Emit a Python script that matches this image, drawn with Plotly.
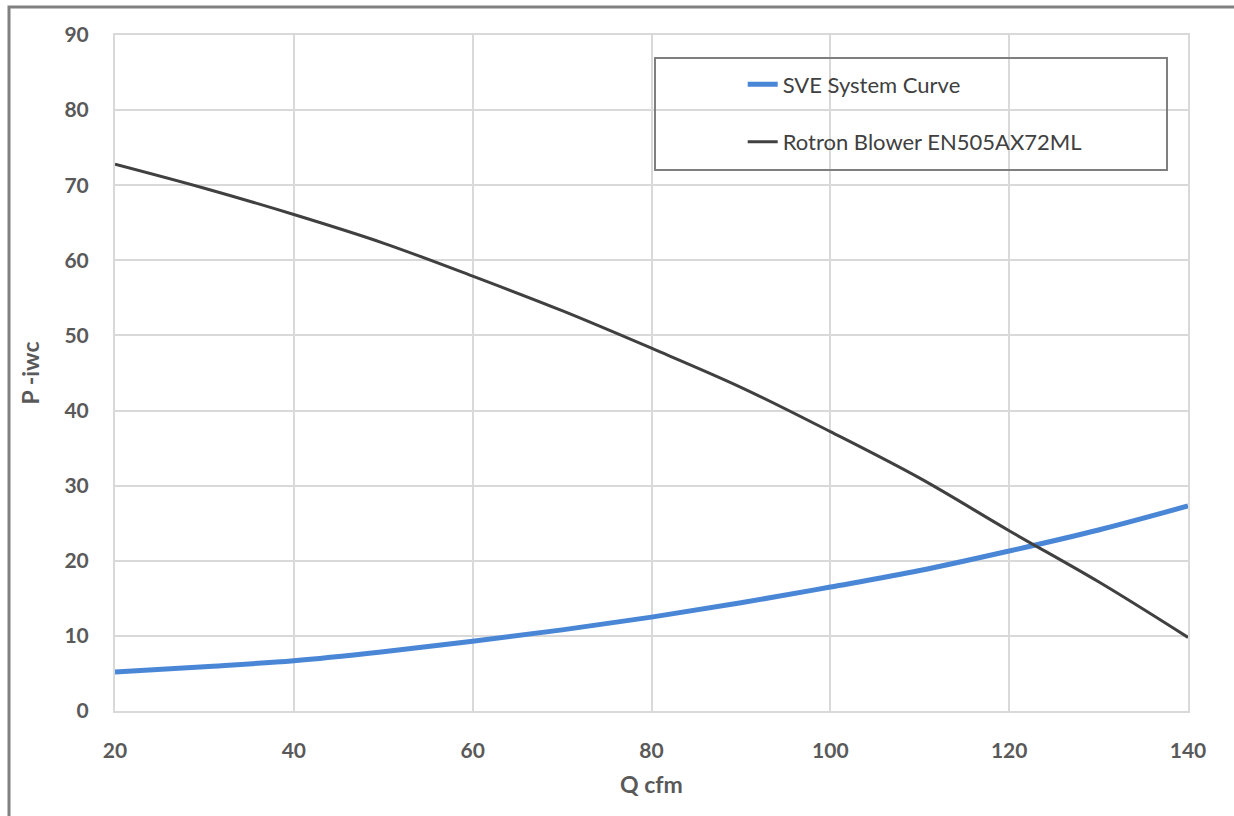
import plotly.graph_objects as go

q_sve = [20, 30, 40, 50, 60, 70, 80, 90, 100, 110, 120, 130, 140]
p_sve = [5.2, 5.9, 6.7, 7.9, 9.3, 10.8, 12.5, 14.4, 16.5, 18.7, 21.3, 24.1, 27.3]

q_blower = [20, 30, 40, 50, 60, 70, 80, 90, 100, 110, 120, 130, 140]
p_blower = [72.8, 69.6, 66.1, 62.3, 57.9, 53.3, 48.3, 43.1, 37.2, 31.0, 24.0, 17.2, 9.8]

x_ticks = [20, 40, 60, 80, 100, 120, 140]
y_ticks = [0, 10, 20, 30, 40, 50, 60, 70, 80, 90]

FONT = "Lato"
TICK_COLOR = "#595959"
GRID = "#d9d9d9"

fig = go.Figure()
fig.add_trace(go.Scatter(
    x=q_sve, y=p_sve, mode="lines", name="SVE System Curve",
    line=dict(color="#4a86d6", width=5, shape="spline"), legendgroup="a"))
fig.add_trace(go.Scatter(
    x=q_blower, y=p_blower, mode="lines", name="Rotron Blower EN505AX72ML",
    line=dict(color="#404040", width=3, shape="spline"), legendgroup="b"))

fig.update_layout(
    width=1234, height=816,
    margin=dict(l=115, r=46, t=35, b=105),
    paper_bgcolor="white", plot_bgcolor="white",
    font=dict(family=FONT, color=TICK_COLOR),
    showlegend=True,
    legend=dict(
        x=0.585, y=0.958, xanchor="left", yanchor="top",
        bgcolor="rgba(0,0,0,0)", borderwidth=0,
        font=dict(family=FONT, size=22, color="#404040"),
        tracegroupgap=26, itemwidth=30,
    ),
    xaxis=dict(
        range=[20, 140], tickvals=x_ticks,
        showgrid=True, gridcolor=GRID, gridwidth=2,
        showline=True, linecolor=GRID, linewidth=2, mirror=True,
        zeroline=False, ticks="",
        tickfont=dict(family=FONT, size=21, color=TICK_COLOR, weight="bold"),
        ticklabelstandoff=20,
        title=dict(text="<b>Q cfm</b>", font=dict(family=FONT, size=23, color=TICK_COLOR), standoff=16),
    ),
    yaxis=dict(
        range=[0, 90], tickvals=y_ticks,
        showgrid=True, gridcolor=GRID, gridwidth=2,
        showline=True, linecolor=GRID, linewidth=2, mirror=True,
        zeroline=False, ticks="",
        tickfont=dict(family=FONT, size=21, color=TICK_COLOR, weight="bold"),
        ticklabelstandoff=20,
        title=dict(text="<b>P -iwc</b>", font=dict(family=FONT, size=23, color=TICK_COLOR), standoff=18),
    ),
    shapes=[
        dict(type="rect", xref="paper", yref="paper",
             x0=(655 - 115) / 1073, x1=(1167 - 115) / 1073,
             y0=(711 - 170) / 676, y1=(711 - 58) / 676,
             line=dict(color="#7f7f7f", width=2), fillcolor="rgba(0,0,0,0)", layer="above"),
        dict(type="rect", xref="paper", yref="paper",
             x0=(9 - 115) / 1073, x1=1.2,
             y0=-0.3, y1=(711 - 7) / 676,
             line=dict(color="#808080", width=3), fillcolor="rgba(0,0,0,0)", layer="above"),
    ],
)

fig.write_html("out.html")
